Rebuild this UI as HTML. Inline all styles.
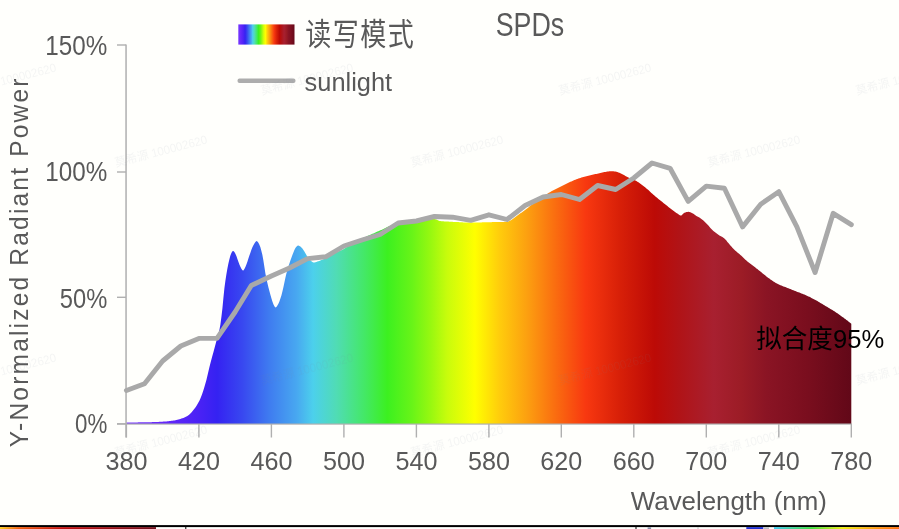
<!DOCTYPE html>
<html lang="zh"><head><meta charset="utf-8"><title>SPDs</title>
<style>
html,body{margin:0;padding:0;background:#fffffc;}
body{width:899px;height:529px;overflow:hidden;position:relative;font-family:"Liberation Sans","Noto Sans CJK SC",sans-serif;}
svg{position:absolute;left:0;top:0;display:block;}
svg text{font-family:"Liberation Sans","Noto Sans CJK SC",sans-serif;}
</style></head><body>
<svg width="899" height="529" viewBox="0 0 899 529">
<defs>
<linearGradient id="g" gradientUnits="userSpaceOnUse" x1="126.4" y1="0" x2="851.3" y2="0">
<stop offset="0.0000" stop-color="#7a3cff"/>
<stop offset="0.0500" stop-color="#6628fa"/>
<stop offset="0.1000" stop-color="#4a22f5"/>
<stop offset="0.1250" stop-color="#3522f2"/>
<stop offset="0.1600" stop-color="#3848f0"/>
<stop offset="0.1975" stop-color="#3f7cf0"/>
<stop offset="0.2350" stop-color="#48a8f0"/>
<stop offset="0.2575" stop-color="#4cd0ec"/>
<stop offset="0.2900" stop-color="#50dcb4"/>
<stop offset="0.3275" stop-color="#44e868"/>
<stop offset="0.3600" stop-color="#3cf020"/>
<stop offset="0.3940" stop-color="#68f418"/>
<stop offset="0.4200" stop-color="#98f810"/>
<stop offset="0.4425" stop-color="#c8fc0c"/>
<stop offset="0.4807" stop-color="#ffff00"/>
<stop offset="0.5150" stop-color="#ffcc0c"/>
<stop offset="0.5525" stop-color="#fca010"/>
<stop offset="0.5893" stop-color="#fa7010"/>
<stop offset="0.6335" stop-color="#f83810"/>
<stop offset="0.6800" stop-color="#d82008"/>
<stop offset="0.7290" stop-color="#bc0a06"/>
<stop offset="0.7650" stop-color="#b01418"/>
<stop offset="0.8100" stop-color="#a82030"/>
<stop offset="0.8475" stop-color="#9c1c26"/>
<stop offset="0.8838" stop-color="#8a1424"/>
<stop offset="0.9390" stop-color="#7a0e1e"/>
<stop offset="1.0000" stop-color="#620818"/>
</linearGradient>
<linearGradient id="g2" gradientUnits="userSpaceOnUse" x1="238" y1="0" x2="295" y2="0">
<stop offset="0.0000" stop-color="#7a3cff"/>
<stop offset="0.0500" stop-color="#6628fa"/>
<stop offset="0.1000" stop-color="#4a22f5"/>
<stop offset="0.1250" stop-color="#3522f2"/>
<stop offset="0.1600" stop-color="#3848f0"/>
<stop offset="0.1975" stop-color="#3f7cf0"/>
<stop offset="0.2350" stop-color="#48a8f0"/>
<stop offset="0.2575" stop-color="#4cd0ec"/>
<stop offset="0.2900" stop-color="#50dcb4"/>
<stop offset="0.3275" stop-color="#44e868"/>
<stop offset="0.3600" stop-color="#3cf020"/>
<stop offset="0.3940" stop-color="#68f418"/>
<stop offset="0.4200" stop-color="#98f810"/>
<stop offset="0.4425" stop-color="#c8fc0c"/>
<stop offset="0.4807" stop-color="#ffff00"/>
<stop offset="0.5150" stop-color="#ffcc0c"/>
<stop offset="0.5525" stop-color="#fca010"/>
<stop offset="0.5893" stop-color="#fa7010"/>
<stop offset="0.6335" stop-color="#f83810"/>
<stop offset="0.6800" stop-color="#d82008"/>
<stop offset="0.7290" stop-color="#bc0a06"/>
<stop offset="0.7650" stop-color="#b01418"/>
<stop offset="0.8100" stop-color="#a82030"/>
<stop offset="0.8475" stop-color="#9c1c26"/>
<stop offset="0.8838" stop-color="#8a1424"/>
<stop offset="0.9390" stop-color="#7a0e1e"/>
<stop offset="1.0000" stop-color="#620818"/>
</linearGradient>
<linearGradient id="b1" x1="0" y1="0" x2="1" y2="0"><stop offset="0" stop-color="#ffd020"/><stop offset="0.12" stop-color="#f06010"/><stop offset="0.4" stop-color="#c01010"/><stop offset="1" stop-color="#70101c"/></linearGradient>
<linearGradient id="b2" x1="0" y1="0" x2="1" y2="0"><stop offset="0" stop-color="#40c8f0"/><stop offset="0.3" stop-color="#40e040"/><stop offset="0.55" stop-color="#f0f010"/><stop offset="0.85" stop-color="#ff9010"/><stop offset="1" stop-color="#ff7010"/></linearGradient>
</defs>
<rect width="899" height="529" fill="#fffffc"/>
<polygon points="126.4,422.4 127.4,422.4 128.4,422.4 129.4,422.4 130.4,422.4 131.4,422.4 132.4,422.4 133.4,422.4 134.4,422.4 135.4,422.4 136.4,422.4 137.4,422.4 138.4,422.3 139.4,422.3 140.4,422.3 141.4,422.3 142.4,422.3 143.4,422.3 144.4,422.3 145.4,422.3 146.4,422.3 147.4,422.2 148.4,422.2 149.4,422.2 150.4,422.2 151.4,422.2 152.4,422.1 153.4,422.1 154.4,422.1 155.4,422.0 156.4,422.0 157.4,421.9 158.4,421.9 159.4,421.8 160.4,421.8 161.4,421.7 162.4,421.7 163.4,421.6 164.4,421.5 165.4,421.4 166.4,421.4 167.4,421.3 168.4,421.2 169.4,421.1 170.4,421.0 171.4,420.8 172.4,420.7 173.4,420.5 174.4,420.4 175.4,420.2 176.4,420.0 177.4,419.7 178.4,419.5 179.4,419.2 180.4,418.9 181.4,418.6 182.4,418.2 183.4,417.9 184.4,417.5 185.4,417.0 186.4,416.5 187.4,416.0 188.4,415.3 189.4,414.5 190.4,413.5 191.4,412.4 192.4,411.2 193.4,410.0 194.4,408.7 195.4,407.4 196.4,405.9 197.4,404.3 198.4,402.6 199.4,400.7 200.4,398.5 201.4,396.0 202.4,393.2 203.4,390.2 204.4,387.0 205.4,383.6 206.4,379.9 207.4,375.8 208.4,371.5 209.4,367.2 210.4,363.2 211.4,359.4 212.4,355.8 213.4,352.2 214.4,348.5 215.4,344.8 216.4,341.1 217.4,337.4 218.4,333.8 219.4,330.1 220.4,324.6 221.4,317.0 222.4,308.4 223.4,298.1 224.4,288.3 225.4,280.8 226.4,274.2 227.4,268.5 228.4,263.5 229.4,259.2 230.4,255.6 231.4,253.1 232.4,251.3 233.4,250.9 234.4,252.0 235.4,253.8 236.4,256.1 237.4,259.1 238.4,261.8 239.4,264.5 240.4,266.8 241.4,268.7 242.4,270.2 243.4,270.5 244.4,269.1 245.4,266.9 246.4,264.6 247.4,261.7 248.4,258.6 249.4,255.6 250.4,252.7 251.4,249.8 252.4,247.2 253.4,245.3 254.4,243.4 255.4,241.9 256.4,241.1 257.4,241.4 258.4,242.8 259.4,244.8 260.4,247.3 261.4,250.9 262.4,255.0 263.4,260.5 264.4,267.0 265.4,273.4 266.4,278.6 267.4,283.1 268.4,287.3 269.4,291.1 270.4,294.7 271.4,298.2 272.4,301.6 273.4,304.3 274.4,306.2 275.4,307.5 276.4,307.0 277.4,305.5 278.4,303.8 279.4,301.4 280.4,298.6 281.4,295.4 282.4,291.6 283.4,287.2 284.4,282.4 285.4,277.7 286.4,273.5 287.4,269.9 288.4,266.6 289.4,263.4 290.4,260.5 291.4,257.7 292.4,255.1 293.4,252.5 294.4,250.0 295.4,248.1 296.4,246.8 297.4,245.8 298.4,245.5 299.4,245.9 300.4,246.5 301.4,247.4 302.4,248.6 303.4,250.1 304.4,251.6 305.4,253.3 306.4,255.0 307.4,256.7 308.4,258.1 309.4,259.2 310.4,260.2 311.4,261.2 312.4,262.0 313.4,262.4 314.4,262.5 315.4,262.3 316.4,262.0 317.4,261.6 318.4,261.2 319.4,260.9 320.4,260.5 321.4,260.1 322.4,259.7 323.4,259.2 324.4,258.8 325.4,258.3 326.4,257.8 327.4,257.3 328.4,256.7 329.4,256.1 330.4,255.6 331.4,255.0 332.4,254.4 333.4,253.8 334.4,253.3 335.4,252.8 336.4,252.3 337.4,251.9 338.4,251.5 339.4,251.1 340.4,250.6 341.4,250.2 342.4,249.7 343.4,249.2 344.4,248.6 345.4,248.0 346.4,247.2 347.4,246.4 348.4,245.6 349.4,244.8 350.4,244.0 351.4,243.4 352.4,242.8 353.4,242.3 354.4,241.8 355.4,241.3 356.4,240.9 357.4,240.4 358.4,240.0 359.4,239.6 360.4,239.2 361.4,238.8 362.4,238.3 363.4,237.9 364.4,237.4 365.4,237.0 366.4,236.5 367.4,236.1 368.4,235.6 369.4,235.2 370.4,234.7 371.4,234.3 372.4,233.8 373.4,233.4 374.4,232.9 375.4,232.5 376.4,232.1 377.4,231.6 378.4,231.2 379.4,230.8 380.4,230.3 381.4,229.9 382.4,229.4 383.4,228.9 384.4,228.4 385.4,228.0 386.4,227.5 387.4,227.1 388.4,226.6 389.4,226.2 390.4,225.9 391.4,225.5 392.4,225.1 393.4,224.8 394.4,224.4 395.4,224.1 396.4,223.9 397.4,223.6 398.4,223.4 399.4,223.3 400.4,223.1 401.4,222.9 402.4,222.8 403.4,222.7 404.4,222.6 405.4,222.4 406.4,222.3 407.4,222.2 408.4,222.1 409.4,222.1 410.4,222.0 411.4,221.9 412.4,221.8 413.4,221.8 414.4,221.7 415.4,221.6 416.4,221.6 417.4,221.5 418.4,221.3 419.4,221.1 420.4,220.9 421.4,220.7 422.4,220.5 423.4,220.3 424.4,220.1 425.4,219.9 426.4,219.8 427.4,219.6 428.4,219.5 429.4,219.4 430.4,219.2 431.4,219.1 432.4,219.1 433.4,219.0 434.4,219.0 435.4,219.2 436.4,219.6 437.4,220.1 438.4,220.5 439.4,220.9 440.4,221.0 441.4,221.2 442.4,221.2 443.4,221.3 444.4,221.4 445.4,221.5 446.4,221.5 447.4,221.6 448.4,221.6 449.4,221.7 450.4,221.7 451.4,221.8 452.4,221.8 453.4,221.9 454.4,221.9 455.4,222.0 456.4,222.0 457.4,222.1 458.4,222.1 459.4,222.2 460.4,222.2 461.4,222.3 462.4,222.3 463.4,222.4 464.4,222.4 465.4,222.4 466.4,222.5 467.4,222.5 468.4,222.5 469.4,222.5 470.4,222.5 471.4,222.5 472.4,222.5 473.4,222.5 474.4,222.5 475.4,222.5 476.4,222.4 477.4,222.4 478.4,222.4 479.4,222.4 480.4,222.4 481.4,222.4 482.4,222.3 483.4,222.3 484.4,222.3 485.4,222.3 486.4,222.2 487.4,222.2 488.4,222.2 489.4,222.2 490.4,222.2 491.4,222.2 492.4,222.1 493.4,222.1 494.4,222.1 495.4,222.1 496.4,222.1 497.4,222.1 498.4,222.0 499.4,222.0 500.4,222.0 501.4,222.0 502.4,221.9 503.4,221.9 504.4,221.8 505.4,221.8 506.4,221.7 507.4,221.6 508.4,221.4 509.4,221.1 510.4,220.5 511.4,219.9 512.4,219.3 513.4,218.6 514.4,217.8 515.4,217.0 516.4,216.2 517.4,215.4 518.4,214.7 519.4,214.0 520.4,213.3 521.4,212.7 522.4,212.0 523.4,211.3 524.4,210.6 525.4,209.8 526.4,209.1 527.4,208.3 528.4,207.5 529.4,206.6 530.4,205.8 531.4,205.0 532.4,204.2 533.4,203.5 534.4,202.7 535.4,202.0 536.4,201.2 537.4,200.5 538.4,199.8 539.4,199.0 540.4,198.3 541.4,197.6 542.4,197.0 543.4,196.3 544.4,195.6 545.4,195.0 546.4,194.4 547.4,193.7 548.4,193.1 549.4,192.5 550.4,191.9 551.4,191.3 552.4,190.8 553.4,190.2 554.4,189.7 555.4,189.2 556.4,188.7 557.4,188.3 558.4,187.8 559.4,187.3 560.4,186.8 561.4,186.3 562.4,185.8 563.4,185.3 564.4,184.8 565.4,184.3 566.4,183.8 567.4,183.3 568.4,182.8 569.4,182.3 570.4,181.8 571.4,181.4 572.4,180.9 573.4,180.5 574.4,180.1 575.4,179.7 576.4,179.3 577.4,178.9 578.4,178.5 579.4,178.2 580.4,177.9 581.4,177.6 582.4,177.3 583.4,177.0 584.4,176.7 585.4,176.4 586.4,176.2 587.4,175.9 588.4,175.7 589.4,175.4 590.4,175.2 591.4,175.0 592.4,174.8 593.4,174.5 594.4,174.3 595.4,174.1 596.4,173.9 597.4,173.7 598.4,173.5 599.4,173.2 600.4,173.0 601.4,172.8 602.4,172.5 603.4,172.3 604.4,172.1 605.4,171.9 606.4,171.8 607.4,171.6 608.4,171.4 609.4,171.3 610.4,171.2 611.4,171.2 612.4,171.2 613.4,171.3 614.4,171.4 615.4,171.6 616.4,171.8 617.4,172.1 618.4,172.4 619.4,172.8 620.4,173.2 621.4,173.7 622.4,174.2 623.4,174.7 624.4,175.3 625.4,175.9 626.4,176.5 627.4,177.0 628.4,177.5 629.4,177.9 630.4,178.3 631.4,178.7 632.4,179.1 633.4,179.5 634.4,180.0 635.4,180.5 636.4,181.0 637.4,181.7 638.4,182.3 639.4,183.0 640.4,183.7 641.4,184.4 642.4,185.2 643.4,185.9 644.4,186.7 645.4,187.5 646.4,188.4 647.4,189.2 648.4,190.1 649.4,191.0 650.4,192.0 651.4,192.9 652.4,193.8 653.4,194.7 654.4,195.6 655.4,196.5 656.4,197.3 657.4,198.1 658.4,198.9 659.4,199.7 660.4,200.5 661.4,201.3 662.4,202.1 663.4,202.9 664.4,203.7 665.4,204.5 666.4,205.3 667.4,206.1 668.4,206.9 669.4,207.7 670.4,208.5 671.4,209.3 672.4,210.1 673.4,210.8 674.4,211.5 675.4,212.3 676.4,213.0 677.4,213.6 678.4,214.3 679.4,215.0 680.4,215.5 681.4,215.5 682.4,214.6 683.4,213.4 684.4,212.8 685.4,212.4 686.4,212.1 687.4,211.9 688.4,211.8 689.4,211.9 690.4,212.3 691.4,212.7 692.4,213.2 693.4,213.8 694.4,214.5 695.4,215.2 696.4,215.9 697.4,216.5 698.4,217.0 699.4,217.6 700.4,218.3 701.4,219.0 702.4,219.7 703.4,220.6 704.4,221.5 705.4,222.4 706.4,223.4 707.4,224.5 708.4,225.6 709.4,226.8 710.4,227.9 711.4,229.0 712.4,230.0 713.4,230.9 714.4,231.8 715.4,232.6 716.4,233.3 717.4,234.1 718.4,234.8 719.4,235.4 720.4,235.9 721.4,236.5 722.4,237.1 723.4,237.7 724.4,238.5 725.4,239.5 726.4,240.6 727.4,241.9 728.4,243.1 729.4,244.3 730.4,245.4 731.4,246.6 732.4,247.7 733.4,248.8 734.4,249.8 735.4,250.8 736.4,251.6 737.4,252.4 738.4,253.2 739.4,254.0 740.4,254.9 741.4,255.8 742.4,256.8 743.4,257.8 744.4,258.8 745.4,259.7 746.4,260.6 747.4,261.5 748.4,262.3 749.4,263.0 750.4,263.8 751.4,264.5 752.4,265.3 753.4,266.1 754.4,266.8 755.4,267.6 756.4,268.4 757.4,269.1 758.4,269.9 759.4,270.7 760.4,271.5 761.4,272.3 762.4,273.2 763.4,274.0 764.4,274.8 765.4,275.6 766.4,276.4 767.4,277.2 768.4,277.9 769.4,278.6 770.4,279.4 771.4,280.1 772.4,280.7 773.4,281.4 774.4,282.1 775.4,282.7 776.4,283.3 777.4,283.8 778.4,284.3 779.4,284.7 780.4,285.2 781.4,285.6 782.4,286.0 783.4,286.4 784.4,286.7 785.4,287.1 786.4,287.5 787.4,287.9 788.4,288.3 789.4,288.7 790.4,289.1 791.4,289.5 792.4,289.9 793.4,290.3 794.4,290.7 795.4,291.1 796.4,291.5 797.4,291.9 798.4,292.3 799.4,292.6 800.4,293.0 801.4,293.4 802.4,293.8 803.4,294.2 804.4,294.6 805.4,295.0 806.4,295.4 807.4,295.9 808.4,296.4 809.4,296.8 810.4,297.3 811.4,297.9 812.4,298.4 813.4,298.9 814.4,299.4 815.4,300.0 816.4,300.5 817.4,301.1 818.4,301.7 819.4,302.3 820.4,302.9 821.4,303.5 822.4,304.1 823.4,304.7 824.4,305.3 825.4,305.9 826.4,306.5 827.4,307.1 828.4,307.7 829.4,308.3 830.4,308.9 831.4,309.5 832.4,310.1 833.4,310.7 834.4,311.3 835.4,312.0 836.4,312.7 837.4,313.3 838.4,314.0 839.4,314.7 840.4,315.5 841.4,316.2 842.4,316.9 843.4,317.6 844.4,318.4 845.4,319.1 846.4,319.9 847.4,320.6 848.4,321.4 849.4,322.2 850.4,323.0 851.3,323.7 851.3,424 126.4,424" fill="url(#g)"/>
<rect x="125.3" y="44.5" width="1.5" height="393" fill="#b0b0b0"/>
<rect x="117" y="423.4" width="735" height="1.4" fill="#b0b0b0" opacity="0.85"/>
<rect x="125.7" y="424" width="1.4" height="13.5" fill="#b0b0b0"/><rect x="198.2" y="424" width="1.4" height="13.5" fill="#b0b0b0"/><rect x="270.7" y="424" width="1.4" height="13.5" fill="#b0b0b0"/><rect x="343.2" y="424" width="1.4" height="13.5" fill="#b0b0b0"/><rect x="415.7" y="424" width="1.4" height="13.5" fill="#b0b0b0"/><rect x="488.2" y="424" width="1.4" height="13.5" fill="#b0b0b0"/><rect x="560.6" y="424" width="1.4" height="13.5" fill="#b0b0b0"/><rect x="633.1" y="424" width="1.4" height="13.5" fill="#b0b0b0"/><rect x="705.6" y="424" width="1.4" height="13.5" fill="#b0b0b0"/><rect x="778.1" y="424" width="1.4" height="13.5" fill="#b0b0b0"/><rect x="850.6" y="424" width="1.4" height="13.5" fill="#b0b0b0"/><rect x="117" y="44.3" width="9" height="1.4" fill="#b0b0b0"/><rect x="117" y="171.3" width="9" height="1.4" fill="#b0b0b0"/><rect x="117" y="296.6" width="9" height="1.4" fill="#b0b0b0"/><rect x="117" y="423.1" width="9" height="1.4" fill="#b0b0b0"/>
<polyline points="126.4,390.5 144.5,383.7 162.6,361.0 180.8,346.0 198.9,338.4 217.0,338.4 235.1,312.0 251.3,285.5 271.4,276.0 289.5,268.0 307.6,258.6 325.7,256.8 343.9,246.0 362.0,240.0 380.1,234.5 398.2,223.0 416.4,221.0 434.5,216.5 452.6,217.2 470.7,220.3 488.9,214.8 507.0,219.5 525.1,205.5 543.2,197.0 561.3,194.5 579.5,199.5 597.6,185.5 615.7,189.5 633.8,178.0 652.0,163.0 670.1,168.3 688.2,201.4 706.3,186.1 724.4,188.3 742.6,226.9 760.7,204.2 778.8,191.7 796.9,226.9 815.1,272.5 833.2,213.3 851.3,224.6" fill="none" stroke="#a9a9a9" stroke-width="4.9" stroke-linejoin="round" stroke-linecap="round"/>
<g font-size="26.6" fill="#595959"><text x="126.4" y="469.7" text-anchor="middle" textLength="42" lengthAdjust="spacingAndGlyphs">380</text><text x="198.9" y="469.7" text-anchor="middle" textLength="42" lengthAdjust="spacingAndGlyphs">420</text><text x="271.4" y="469.7" text-anchor="middle" textLength="42" lengthAdjust="spacingAndGlyphs">460</text><text x="343.9" y="469.7" text-anchor="middle" textLength="42" lengthAdjust="spacingAndGlyphs">500</text><text x="416.4" y="469.7" text-anchor="middle" textLength="42" lengthAdjust="spacingAndGlyphs">540</text><text x="488.9" y="469.7" text-anchor="middle" textLength="42" lengthAdjust="spacingAndGlyphs">580</text><text x="561.3" y="469.7" text-anchor="middle" textLength="42" lengthAdjust="spacingAndGlyphs">620</text><text x="633.8" y="469.7" text-anchor="middle" textLength="42" lengthAdjust="spacingAndGlyphs">660</text><text x="706.3" y="469.7" text-anchor="middle" textLength="42" lengthAdjust="spacingAndGlyphs">700</text><text x="778.8" y="469.7" text-anchor="middle" textLength="42" lengthAdjust="spacingAndGlyphs">740</text><text x="851.3" y="469.7" text-anchor="middle" textLength="42" lengthAdjust="spacingAndGlyphs">780</text><text x="107.3" y="55.3" font-size="27.4" text-anchor="end" textLength="62" lengthAdjust="spacingAndGlyphs">150%</text><text x="107.3" y="180.8" font-size="27.4" text-anchor="end" textLength="62" lengthAdjust="spacingAndGlyphs">100%</text><text x="107.3" y="308.4" font-size="27.4" text-anchor="end" textLength="47.5" lengthAdjust="spacingAndGlyphs">50%</text><text x="107.3" y="433.4" font-size="27.4" text-anchor="end" textLength="32.3" lengthAdjust="spacingAndGlyphs">0%</text>
<text x="630.8" y="510.2" textLength="196" lengthAdjust="spacingAndGlyphs">Wavelength (nm)</text>
<text transform="translate(27.8,447.2) rotate(-90) scale(0.96,1)" font-size="25.6" textLength="384" lengthAdjust="spacing">Y-Normalized Radiant Power</text>
</g>
<text x="495.7" y="36.3" font-size="33.2" fill="#595959" textLength="68.5" lengthAdjust="spacingAndGlyphs">SPDs</text>
<rect x="238.3" y="24.4" width="56.2" height="20.2" fill="url(#g2)"/>
<text transform="translate(305.2,44.6) scale(1.02,1.215)" font-size="25.5" fill="#595959" textLength="106.5" lengthAdjust="spacing">读写模式</text>
<rect x="237.5" y="78.6" width="58" height="4.4" rx="2" fill="#adadad"/>
<text x="304.6" y="91.2" font-size="25.6" fill="#595959" textLength="87.5" lengthAdjust="spacingAndGlyphs">sunlight</text>
<text x="756.2" y="347.6" font-size="26" fill="#000" textLength="128" lengthAdjust="spacingAndGlyphs">拟合度95%</text>
<g font-size="12" fill="#7f8aa0" opacity="0.085"><text transform="translate(-35,95) rotate(-14.5)" textLength="95" lengthAdjust="spacingAndGlyphs">莫希源 100002620</text><text transform="translate(262,95) rotate(-14.5)" textLength="95" lengthAdjust="spacingAndGlyphs">莫希源 100002620</text><text transform="translate(560,95) rotate(-14.5)" textLength="95" lengthAdjust="spacingAndGlyphs">莫希源 100002620</text><text transform="translate(857,95) rotate(-14.5)" textLength="95" lengthAdjust="spacingAndGlyphs">莫希源 100002620</text><text transform="translate(116,167) rotate(-14.5)" textLength="95" lengthAdjust="spacingAndGlyphs">莫希源 100002620</text><text transform="translate(412,167) rotate(-14.5)" textLength="95" lengthAdjust="spacingAndGlyphs">莫希源 100002620</text><text transform="translate(709,167) rotate(-14.5)" textLength="95" lengthAdjust="spacingAndGlyphs">莫希源 100002620</text><text transform="translate(-35,385) rotate(-14.5)" textLength="95" lengthAdjust="spacingAndGlyphs">莫希源 100002620</text><text transform="translate(262,385) rotate(-14.5)" textLength="95" lengthAdjust="spacingAndGlyphs">莫希源 100002620</text><text transform="translate(560,385) rotate(-14.5)" textLength="95" lengthAdjust="spacingAndGlyphs">莫希源 100002620</text><text transform="translate(857,385) rotate(-14.5)" textLength="95" lengthAdjust="spacingAndGlyphs">莫希源 100002620</text><text transform="translate(116,457) rotate(-14.5)" textLength="95" lengthAdjust="spacingAndGlyphs">莫希源 100002620</text><text transform="translate(412,457) rotate(-14.5)" textLength="95" lengthAdjust="spacingAndGlyphs">莫希源 100002620</text><text transform="translate(709,457) rotate(-14.5)" textLength="95" lengthAdjust="spacingAndGlyphs">莫希源 100002620</text></g>
<rect x="0" y="525.1" width="899" height="2" fill="#000"/>
<rect x="0" y="527.1" width="156" height="1.9" fill="url(#b1)"/>
<rect x="185.3" y="526" width="1" height="3" fill="#000"/>
<rect x="635.5" y="526" width="1" height="3" fill="#000"/>
<rect x="697.5" y="527" width="1" height="2" fill="#c0c0c0"/>
<rect x="746.3" y="527.1" width="17" height="1.9" fill="#2030d0"/><rect x="764" y="527.3" width="5" height="1.7" fill="#b8bcc4"/><rect x="647.6" y="527.3" width="3.5" height="1.7" fill="#8890a8"/>
<rect x="774" y="527.1" width="125" height="1.9" fill="url(#b2)"/>
</svg>
</body></html>
